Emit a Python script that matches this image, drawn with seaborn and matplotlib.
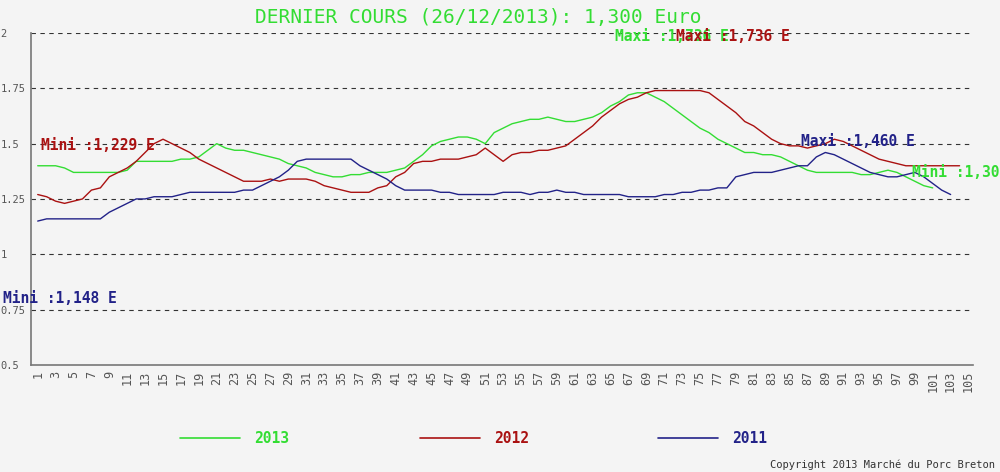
import pandas as pd
import numpy as np
import matplotlib
matplotlib.use('Agg')
import matplotlib.pyplot as plt
import seaborn as sns

# ==============================================================================
# Data (weekly prices, Euro/kg)
# ==============================================================================
prix_2013 = [1.40, 1.40, 1.40, 1.39,
             1.37, 1.37, 1.37, 1.37, 1.37, 1.37, 1.38,
             1.42, 1.42, 1.42, 1.42, 1.42, 1.43, 1.43, 1.44,
             1.47, 1.50,
             1.48, 1.47, 1.47, 1.46, 1.45, 1.44, 1.43, 1.41,
             1.40, 1.39, 1.37, 1.36, 1.35, 1.35, 1.36, 1.36,
             1.37, 1.37, 1.37, 1.38, 1.39, 1.42,
             1.45, 1.49, 1.51, 1.52, 1.53, 1.53, 1.52, 1.50,
             1.55, 1.57, 1.59, 1.60, 1.61, 1.61, 1.62, 1.61, 1.60,
             1.60, 1.61, 1.62, 1.64, 1.67, 1.69, 1.72, 1.73, 1.73, 1.71,
             1.69, 1.66, 1.63, 1.60, 1.57, 1.55, 1.52, 1.50, 1.48, 1.46,
             1.46, 1.45, 1.45, 1.44, 1.42, 1.40, 1.38, 1.37, 1.37, 1.37,
             1.37, 1.37, 1.36, 1.36, 1.37, 1.38, 1.37, 1.35, 1.33, 1.31, 1.30]

prix_2012 = [1.27, 1.26, 1.24, 1.23, 1.24, 1.25, 1.29, 1.30, 1.35, 1.37, 1.39, 1.42, 1.46, 1.50, 1.52,
             1.50, 1.48, 1.46, 1.43, 1.41, 1.39, 1.37, 1.35, 1.33, 1.33, 1.33, 1.34, 1.33,
             1.34, 1.34, 1.34, 1.33, 1.31, 1.30, 1.29, 1.28, 1.28, 1.28, 1.30, 1.31,
             1.35, 1.37, 1.41, 1.42, 1.42, 1.43, 1.43, 1.43, 1.44, 1.45,
             1.48, 1.45, 1.42, 1.45, 1.46, 1.46, 1.47, 1.47, 1.48, 1.49,
             1.52, 1.55, 1.58, 1.62, 1.65, 1.68, 1.70, 1.71, 1.73, 1.74,
             1.74, 1.74, 1.74, 1.74, 1.74, 1.73, 1.70, 1.67, 1.64, 1.60,
             1.58, 1.55, 1.52, 1.50, 1.49, 1.49, 1.48, 1.49, 1.50, 1.52,
             1.51, 1.49, 1.47, 1.45, 1.43, 1.42, 1.41, 1.40, 1.40, 1.40,
             1.40, 1.40, 1.40, 1.40]

prix_2011 = [1.15, 1.16, 1.16, 1.16, 1.16, 1.16, 1.16, 1.16,
             1.19, 1.21, 1.23, 1.25,
             1.25, 1.26, 1.26, 1.26, 1.27,
             1.28, 1.28, 1.28, 1.28, 1.28, 1.28,
             1.29, 1.29, 1.31, 1.33, 1.35, 1.38, 1.42,
             1.43, 1.43, 1.43, 1.43, 1.43, 1.43,
             1.40, 1.38, 1.36, 1.34, 1.31, 1.29, 1.29,
             1.29, 1.29, 1.28, 1.28,
             1.27, 1.27, 1.27, 1.27, 1.27,
             1.28, 1.28, 1.28, 1.27, 1.28, 1.28, 1.29, 1.28, 1.28, 1.27, 1.27, 1.27, 1.27, 1.27, 1.26, 1.26,
             1.26, 1.26, 1.27, 1.27, 1.28, 1.28, 1.29, 1.29,
             1.30, 1.30, 1.35, 1.36,
             1.37, 1.37, 1.37, 1.38, 1.39, 1.40, 1.40, 1.44,
             1.46, 1.45,
             1.43, 1.41, 1.39, 1.37, 1.36, 1.35, 1.35, 1.36, 1.37, 1.35, 1.32, 1.29, 1.27]

annees = ['2013', '2012', '2011']
couleurs = {'2013': '#33dd33', '2012': '#aa1111', '2011': '#222288'}
y_ticks = [0.5, 0.75, 1, 1.25, 1.5, 1.75, 2]
y_labels = ['0.5', '0.75', '1', '1.25', '1.5', '1.75', '2']
x_ticks = list(range(1, 106, 2))

# annotations: (text, year, x, y)
annotations = [
    ('Mini :1,229 E', '2012', 1.4, 1.49),
    ('Mini :1,148 E', '2011', -2.9, 0.80),
    ('Maxi :1,736 E', '2013', 65.5, 1.985),
    ('Maxi :1,736 E', '2012', 72.3, 1.985),
    ('Maxi :1,460 E', '2011', 86.3, 1.51),
    ('Mini :1,300 E', '2013', 98.7, 1.37),
]

# ==============================================================================
# Long format
# ==============================================================================
frames = []
for annee, vals in zip(annees, [prix_2013, prix_2012, prix_2011]):
    frames.append(pd.DataFrame({'semaine': np.arange(1, len(vals) + 1),
                                'prix': vals, 'annee': annee}))
df = pd.concat(frames, ignore_index=True)

# ==============================================================================
# Plot
# ==============================================================================
sns.set_style('white')
plt.rcParams['font.family'] = ['DejaVu Sans Mono']

fig = plt.figure(figsize=(10, 4.72), dpi=100)
fig.patch.set_facecolor('#f4f4f4')
ax = fig.add_axes([0.031, 0.227, 0.942, 0.703])
ax.set_facecolor('#f4f4f4')

sns.lineplot(data=df, x='semaine', y='prix', hue='annee', palette=couleurs,
             hue_order=annees, linewidth=1.0, legend=False, ax=ax)

for yv in [0.75, 1, 1.25, 1.5, 1.75, 2]:
    ax.axhline(yv, color='#333333', linestyle=(0, (4, 4)), linewidth=0.8, zorder=0)

ax.set_xlim(0.25, 105.5)
ax.set_ylim(0.5, 2)
ax.set_xticks(x_ticks)
ax.set_xticklabels([str(t) for t in x_ticks], rotation=90, fontsize=8.5, color='#555555')
ax.set_yticks(y_ticks)
ax.set_yticklabels(y_labels, fontsize=7.5, color='#555555')
ax.tick_params(axis='y', length=0, pad=1)
ax.tick_params(axis='x', length=0, pad=4)
for lab in ax.get_yticklabels():
    lab.set_horizontalalignment('left')
    lab.set_x(-0.031)
ax.set_xlabel('')
ax.set_ylabel('')
for side in ['top', 'right']:
    ax.spines[side].set_visible(False)
for side in ['left', 'bottom']:
    ax.spines[side].set_color('#777777')
    ax.spines[side].set_linewidth(1.2)

for txt, annee, xx, yy in annotations:
    ax.text(xx, yy, txt, color=couleurs[annee], fontsize=10.5, fontweight='bold',
            ha='left', va='center', clip_on=False)

fig.text(0.478, 0.962, 'DERNIER COURS (26/12/2013): 1,300 Euro', color='#33dd33',
         fontsize=14, ha='center', va='center')

# legend
leg_x = [0.18, 0.42, 0.658]
for xl, annee in zip(leg_x, annees):
    fig.add_artist(plt.Line2D([xl, xl + 0.06], [0.072, 0.072], color=couleurs[annee],
                              linewidth=1.2, transform=fig.transFigure))
    fig.text(xl + 0.074, 0.072, annee, color=couleurs[annee], fontsize=10.5,
             fontweight='bold', va='center', ha='left')

fig.text(0.995, 0.015, 'Copyright 2013 Marché du Porc Breton', fontsize=7.5,
         color='#333333', ha='right', va='center')

plt.savefig('out.png', dpi=100, facecolor=fig.get_facecolor())
